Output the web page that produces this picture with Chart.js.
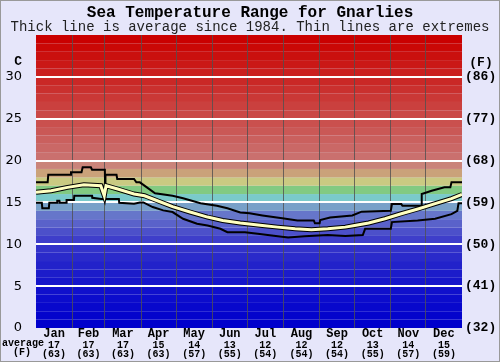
<!DOCTYPE html>
<html>
<head>
<meta charset="utf-8">
<script src="https://cdn.jsdelivr.net/npm/chart.js@4.4.1/dist/chart.umd.min.js"></script>
<style>
  html, body { margin: 0; padding: 0; background: #e6e6fa; }
  #wrap { width: 500px; height: 362px; }
</style>
</head>
<body>
<div id="wrap"><canvas id="chart" width="500" height="362"></canvas></div>
<script>
// ---------------------- DATA ----------------------
const months = ["Jan", "Feb", "Mar", "Apr", "May", "Jun", "Jul", "Aug", "Sep", "Oct", "Nov", "Dec"];
const monthMidDays = [15.5, 45, 74.5, 105, 135.5, 166, 196.5, 227.5, 258, 288.5, 319, 349.5];
const monthStartDays = [31, 59, 90, 120, 151, 181, 212, 243, 273, 304, 334];
const monthAvgC = ["17", "17", "17", "15", "14", "13", "12", "12", "12", "13", "14", "15"];
const monthAvgF = ["(63)", "(63)", "(63)", "(63)", "(57)", "(55)", "(54)", "(54)", "(54)", "(55)", "(57)", "(59)"];

const cTicks = [0, 5, 10, 15, 20, 25, 30];
const cLabels = ["0", "5", "10", "15", "20", "25", "30"];
const fLabels = ["(32)", "(41)", "(50)", "(59)", "(68)", "(77)", "(86)"];

// average (thick line), day of year -> degrees C
const avgDays = [0, 13, 27, 41, 55.5, 58.5, 60, 70, 84, 93, 104, 117, 132, 147, 160, 175, 194, 207, 222, 236, 250, 265, 273, 285, 299, 313, 328, 342, 356, 365];
const avgTemps = [16.2, 16.4, 16.8, 17.1, 17.0, 15.8, 17.0, 16.6, 16.0, 15.8, 15.2, 14.5, 13.85, 13.25, 12.85, 12.55, 12.25, 12.05, 11.85, 11.75, 11.85, 12.05, 12.25, 12.55, 13.05, 13.65, 14.25, 14.85, 15.45, 15.95];

// highest on record
const maxDays = [0, 10, 10.5, 30, 30, 39, 40, 47, 48, 59, 59.2, 59.5, 69, 69.6, 84, 86, 89, 95, 102, 117, 126, 141, 155, 164, 175, 183, 194, 211, 224, 238, 239, 243, 243.5, 252, 271, 279, 304, 305, 313, 314, 330, 330.5, 339, 350, 355, 356, 365];
const maxTemps = [17.4, 17.4, 18.3, 18.3, 18.6, 18.6, 19.2, 19.2, 18.9, 18.9, 16.8, 18.3, 18.3, 17.8, 17.8, 17.4, 17.4, 16.8, 16.1, 15.8, 15.5, 14.9, 14.6, 14.3, 13.8, 13.7, 13.45, 13.1, 12.85, 12.85, 12.5, 12.5, 12.9, 13.2, 13.45, 13.9, 14.0, 14.8, 14.8, 14.6, 14.6, 16.0, 16.4, 16.8, 16.8, 17.4, 17.4];

// lowest on record
const minDays = [0, 5, 5.4, 11, 11.4, 18, 18.2, 20, 20.2, 26, 26.2, 32.5, 32.8, 48, 48.2, 56, 71, 71.3, 84, 89, 92, 100, 109, 117, 126, 138, 147, 158, 164, 179, 190, 202, 216, 230, 250, 265, 280, 282, 304, 305, 327, 342, 356, 361, 362, 365];
const minTemps = [14.95, 14.95, 14.3, 14.3, 14.95, 14.95, 15.2, 15.2, 14.95, 14.95, 15.3, 15.3, 15.8, 15.8, 15.55, 15.4, 15.4, 14.95, 14.85, 15.0, 15.0, 14.45, 14.05, 13.85, 13.05, 12.45, 12.25, 11.85, 11.45, 11.45, 11.25, 11.05, 10.8, 10.95, 11.1, 11.0, 11.1, 11.85, 11.85, 12.65, 12.85, 13.05, 13.6, 14.0, 14.9, 14.9];

// colour of each 1 degree band, 0..35 C
const bandColors = [
  "rgb(0,0,204)", "rgb(4,4,204)", "rgb(8,8,204)", "rgb(12,12,204)", "rgb(16,16,204)",
  "rgb(22,22,202)", "rgb(28,28,202)", "rgb(34,34,202)", "rgb(42,42,202)", "rgb(50,50,202)",
  "rgb(62,62,202)", "rgb(76,80,202)", "rgb(90,98,202)", "rgb(102,118,202)", "rgb(120,160,200)",
  "rgb(122,202,202)", "rgb(130,202,130)", "rgb(202,202,130)", "rgb(202,162,122)", "rgb(202,132,122)",
  "rgb(202,112,110)", "rgb(202,104,102)", "rgb(202,96,94)", "rgb(202,88,86)", "rgb(202,80,78)",
  "rgb(202,72,70)", "rgb(202,64,62)", "rgb(202,56,54)", "rgb(202,48,46)", "rgb(202,40,38)",
  "rgb(202,32,30)", "rgb(202,24,22)", "rgb(202,16,14)", "rgb(202,8,6)", "rgb(202,0,0)"
];

const toPoints = (days, temps) => days.map((d, i) => ({ x: d, y: temps[i] }));

// ---------------------- PLUGINS ----------------------
const bandsPlugin = {
  id: "bands",
  beforeDraw(chart) {
    const { ctx, chartArea } = chart;
    const y = chart.scales.y;
    ctx.save();
    ctx.fillStyle = "#e6e6fa";
    ctx.fillRect(0, 0, chart.width, chart.height);
    bandColors.forEach((c, t) => {
      const top = y.getPixelForValue(t + 1);
      const bottom = y.getPixelForValue(t);
      ctx.fillStyle = c;
      ctx.fillRect(chartArea.left, top, chartArea.right - chartArea.left, bottom - top);
    });
    ctx.restore();
  },
  afterDraw(chart) {
    const { ctx } = chart;
    ctx.save();
    ctx.fillStyle = "#000";
    ctx.textBaseline = "middle";
    ctx.font = "bold 13px 'Liberation Mono'";
    ctx.textAlign = "right";
    ctx.fillText("C", 22, 62);
    ctx.textAlign = "center";
    ctx.fillText("(F)", 481, 63);
    ctx.font = "bold 10px 'Liberation Mono'";
    ctx.textAlign = "left";
    ctx.fillText("average", 2, 343);
    ctx.textAlign = "center";
    ctx.fillText("(F)", 22, 352);
    ctx.strokeStyle = "#999";
    ctx.lineWidth = 1;
    ctx.strokeRect(0.5, 0.5, chart.width - 1, chart.height - 1);
    ctx.restore();
  },
};

// ---------------------- CHART ----------------------
const monoBold = (size) => ({ family: "'Liberation Mono'", size, weight: "bold" });
const noGrid = { display: false, drawTicks: false, tickLength: 0 };

// first dataset is drawn on top
new Chart(document.getElementById("chart"), {
  type: "line",
  data: {
    datasets: [
      { data: toPoints(avgDays, avgTemps), borderColor: "#ffffc0", borderWidth: 3 },
      { data: toPoints(avgDays, avgTemps), borderColor: "#000", borderWidth: 5 },
      { data: toPoints(maxDays, maxTemps), borderColor: "#000", borderWidth: 2 },
      { data: toPoints(minDays, minTemps), borderColor: "#000", borderWidth: 2 },
    ],
  },
  options: {
    responsive: false,
    animation: false,
    devicePixelRatio: 1,
    elements: { point: { radius: 0 }, line: { tension: 0 } },
    layout: { padding: 0 },
    plugins: {
      legend: { display: false },
      tooltip: { enabled: false },
      title: {
        display: true,
        text: "Sea Temperature Range for Gnarlies",
        color: "#000",
        font: { ...monoBold(16), lineHeight: 1 },
        padding: { top: 4.5, bottom: 0 },
      },
      subtitle: {
        display: true,
        text: "Thick line is average since 1984. Thin lines are extremes",
        color: "#222",
        font: { family: "'Liberation Mono'", size: 14, lineHeight: 1 },
        padding: { top: 0, bottom: 0.5 },
      },
    },
    scales: {
      x: {
        type: "linear",
        min: 0,
        max: 365,
        position: "bottom",
        weight: 0,
        grid: noGrid,
        border: { display: false },
        afterBuildTicks: (s) => { s.ticks = monthMidDays.map((v) => ({ value: v })); },
        afterFit: (s) => { s.height = 13; },
        ticks: {
          autoSkip: false,
          maxRotation: 0,
          padding: 0,
          color: "#000",
          font: { ...monoBold(12), lineHeight: 1 },
          callback: (v, i) => months[i],
        },
      },
      xAvg: {
        type: "linear",
        min: 0,
        max: 365,
        position: "bottom",
        weight: 1,
        grid: noGrid,
        border: { display: false },
        afterBuildTicks: (s) => { s.ticks = monthMidDays.map((v) => ({ value: v })); },
        afterFit: (s) => { s.height = 21; },
        ticks: {
          autoSkip: false,
          maxRotation: 0,
          padding: 0,
          color: "#000",
          font: { ...monoBold(10), lineHeight: 0.9 },
          callback: (v, i) => [monthAvgC[i], monthAvgF[i]],
        },
      },
      xGrid: {
        type: "linear",
        min: 0,
        max: 365,
        position: "bottom",
        weight: -1,
        afterBuildTicks: (s) => { s.ticks = monthStartDays.map((v) => ({ value: v })); },
        afterFit: (s) => { s.height = 0; },
        ticks: { display: false },
        grid: { color: "rgba(80,80,80,0.8)", lineWidth: 1, drawTicks: false, tickLength: 0 },
        border: { display: false },
      },
      y: {
        min: 0,
        max: 35,
        position: "left",
        afterBuildTicks: (s) => { s.ticks = cTicks.map((v) => ({ value: v })); },
        afterFit: (s) => { s.width = 36; },
        grid: {
          color: (c) => (c.tick && c.tick.value > 0 ? "#fff" : "rgba(0,0,0,0)"),
          lineWidth: 2,
          drawTicks: false,
          tickLength: 0,
        },
        border: { display: false },
        ticks: {
          padding: 14,
          color: "#000",
          font: { family: "'DejaVu Sans'", size: 13 },
          callback: (v, i) => cLabels[i],
        },
      },
      y2: {
        min: 0,
        max: 35,
        position: "right",
        afterBuildTicks: (s) => { s.ticks = cTicks.map((v) => ({ value: v })); },
        afterFit: (s) => { s.width = 38; },
        grid: noGrid,
        border: { display: false },
        ticks: {
          padding: 3,
          color: "#000",
          font: monoBold(13),
          callback: (v, i) => fLabels[i],
        },
      },
    },
  },
  plugins: [bandsPlugin],
});
</script>
</body>
</html>
